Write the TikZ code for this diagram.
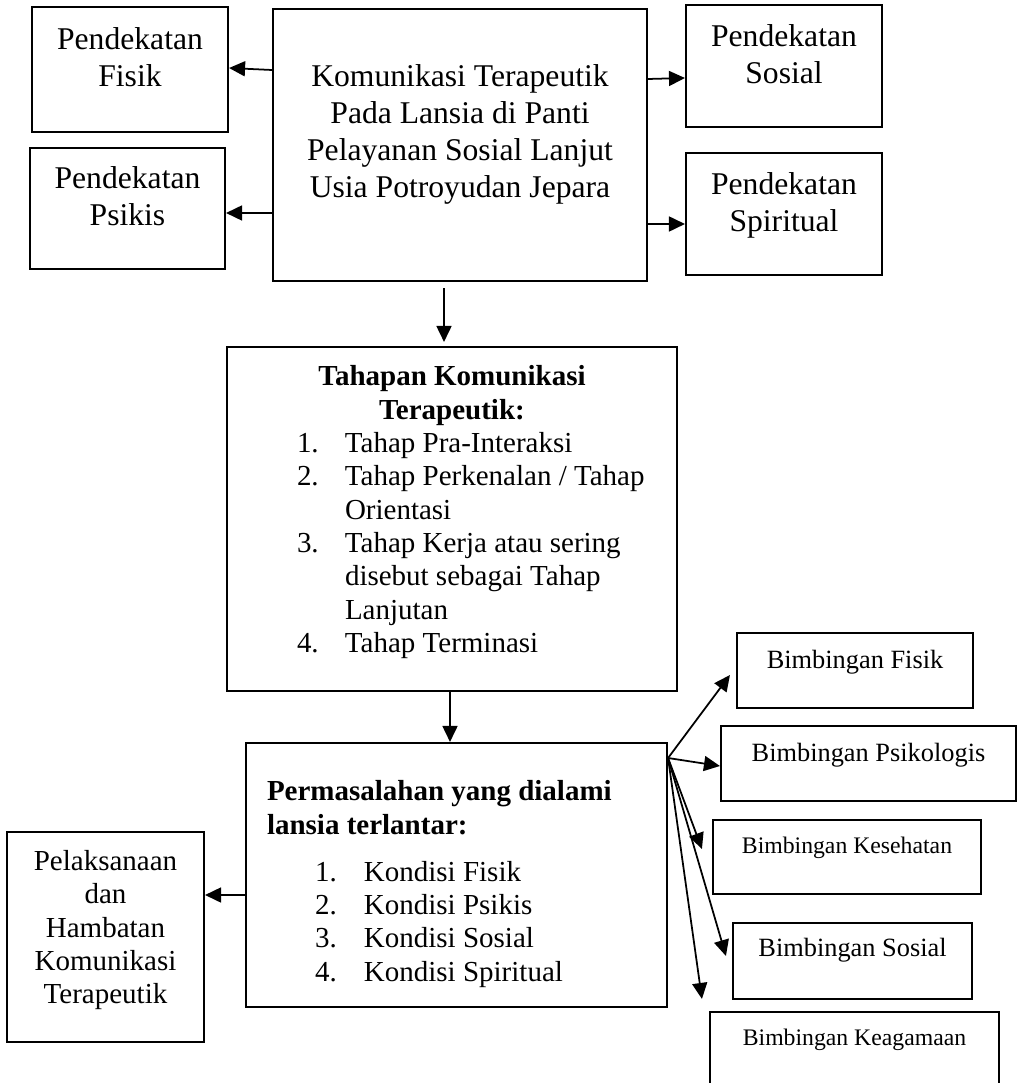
\documentclass[tikz,border=0pt]{standalone}
\usepackage{fontspec}
\setmainfont{Liberation Serif}
\usetikzlibrary{arrows.meta,calc}
\setlength{\parindent}{0pt}

% nomor daftar di dalam kotak
\newcommand{\tahap}[2]{\hspace*{1.4cm}\makebox[0.96cm][l]{#1}#2}
\newcommand{\kondisi}[2]{\hspace*{0.96cm}\makebox[0.98cm][l]{#1}#2}

\tikzset{
  kotak/.style={draw, line width=1.2pt, align=center, inner sep=2pt},
  besar/.style={font=\fontsize{18}{21}\selectfont},
  sedang/.style={font=\fontsize{16.5}{19}\selectfont},
  kecil/.style={font=\fontsize{15}{17}\selectfont},
  mini/.style={font=\fontsize{13.5}{15.5}\selectfont},
  panah/.style={-{Triangle[length=3.2mm,width=3mm]}, line width=1pt},
}

\begin{document}
\begin{tikzpicture}[x=0.2mm, y=-0.2mm]
\useasboundingbox (0,0) rectangle (1020,1083);

% Kotak utama
\node[kotak, besar, minimum width=7.48cm, minimum height=5.44cm] (utama) at (460,145)
  {Komunikasi Terapeutik\\Pada Lansia di Panti\\Pelayanan Sosial Lanjut\\Usia Potroyudan Jepara\\[-5pt]\mbox{}};

% Pendekatan - kiri dan kanan
\node[kotak, besar, minimum width=3.92cm, minimum height=2.5cm] (fisik) at (130,69.5)
  {Pendekatan\\Fisik\\[-7pt]\mbox{}};
\node[kotak, besar, minimum width=3.9cm, minimum height=2.42cm] (psikis) at (127.5,208.5)
  {Pendekatan\\Psikis\\[-7pt]\mbox{}};
\node[kotak, besar, minimum width=3.92cm, minimum height=2.44cm] (sosial) at (784,66)
  {Pendekatan\\Sosial\\[-7pt]\mbox{}};
\node[kotak, besar, minimum width=3.92cm, minimum height=2.44cm] (spiritual) at (784,214)
  {Pendekatan\\Spiritual\\[-7pt]\mbox{}};

% Tahapan komunikasi
\node[kotak, sedang, align=left, text width=9cm, inner xsep=0pt, minimum height=6.88cm] (tahapan) at (452,519)
  {\spaceskip=0pt\xspaceskip=0pt
   \makebox[\hsize]{\bfseries Tahapan Komunikasi}\\
   \makebox[\hsize]{\bfseries Terapeutik:}\\
   \tahap{1.}{Tahap Pra-Interaksi}\\
   \tahap{2.}{Tahap Perkenalan / Tahap}\\
   \tahap{}{Orientasi}\\
   \tahap{3.}{Tahap Kerja atau sering}\\
   \tahap{}{disebut sebagai Tahap}\\
   \tahap{}{Lanjutan}\\
   \tahap{4.}{Tahap Terminasi}\\[-7.8pt]\mbox{}};

% Permasalahan
\node[kotak, sedang, align=left, text width=7.58cm, inner xsep=4.2mm, minimum height=5.28cm] (masalah) at (456.5,875)
  {\spaceskip=0pt\xspaceskip=0pt
   \rule{0pt}{21.8pt}\textbf{Permasalahan yang dialami}\\
   \textbf{lansia terlantar:}\\[7.7pt]
   \kondisi{1.}{Kondisi Fisik}\\
   \kondisi{2.}{Kondisi Psikis}\\
   \kondisi{3.}{Kondisi Sosial}\\
   \kondisi{4.}{Kondisi Spiritual}};

\node[kotak, sedang, minimum width=3.94cm, minimum height=4.2cm] (hambatan) at (105.5,937)
  {Pelaksanaan\\dan\\Hambatan\\Komunikasi\\Terapeutik\\[-7.6pt]\mbox{}};

% Bimbingan - kanan bawah
\node[kotak, kecil, minimum width=4.72cm, minimum height=1.5cm] (bfisik) at (855,670.5)
  {Bimbingan Fisik\\[-4pt]\mbox{}};
\node[kotak, kecil, minimum width=5.9cm, minimum height=1.5cm] (bpsiko) at (868.5,763.5)
  {Bimbingan Psikologis\\[-4.7pt]\mbox{}};
\node[kotak, mini, minimum width=5.36cm, minimum height=1.48cm] (bsehat) at (847,857)
  {Bimbingan Kesehatan\\[-2pt]\mbox{}};
\node[kotak, kecil, minimum width=4.78cm, minimum height=1.52cm] (bsosial) at (852.5,961)
  {Bimbingan Sosial\\[-1.9pt]\mbox{}};
\node[kotak, mini, minimum width=5.78cm, minimum height=1.48cm] (bagama) at (854.5,1049)
  {Bimbingan Keagamaan\\[-1.7pt]\mbox{}};

% Panah dari kotak utama
\draw[panah] (utama.west |- 0,70) -- (fisik.east |- 0,68);
\draw[panah] (utama.west |- 0,213) -- (psikis.east |- 0,213);
\draw[panah] (utama.east |- 0,79) -- (sosial.west |- 0,78);
\draw[panah] (utama.east |- 0,224) -- (spiritual.west |- 0,224);
\draw[panah, shorten <=1.2mm, shorten >=0.8mm] (utama.south -| 444,0) -- (tahapan.north -| 444,0);
\draw[panah] (tahapan.south -| 450,0) -- (masalah.north -| 450,0);
\draw[panah] (masalah.west |- 0,895) -- (hambatan.east |- 0,895);

% Cabang ke bimbingan
\coordinate (cabang) at (masalah.east |- 0,758);
\draw[panah] (cabang) -- ($(bfisik.west)+(-6,4.5)$);
\draw[panah] (cabang) -- ($(bpsiko.west)+(0,2.5)$);
\draw[panah] (cabang) -- ($(bsehat.west)+(-10,-8)$);
\draw[panah] (cabang) -- ($(bsosial.west)+(-6,-5)$);
\draw[panah] (cabang) -- ($(bagama.north west)+(-7,-12)$);

\end{tikzpicture}
\end{document}
